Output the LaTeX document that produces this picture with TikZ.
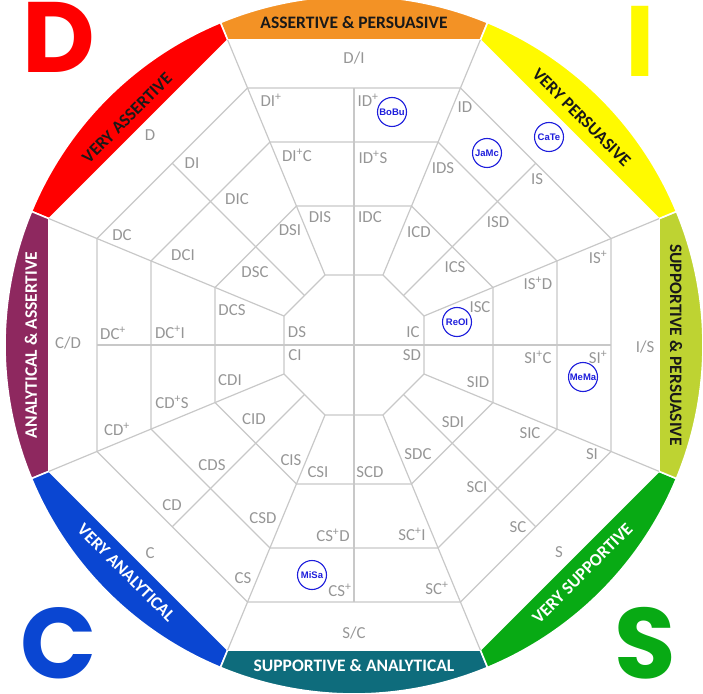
\documentclass[tikz,border=0pt]{standalone}
\usepackage{fontspec}
\setmainfont{Carlito}
\newfontfamily\bigfont{Poppins}
\newfontfamily\circfont{Liberation Sans}
\definecolor{cOrange}{RGB}{243,146,37}
\definecolor{cRed}{RGB}{255,0,0}
\definecolor{cYellow}{RGB}{255,250,0}
\definecolor{cLime}{RGB}{190,211,50}
\definecolor{cGreen}{RGB}{8,170,20}
\definecolor{cTeal}{RGB}{14,108,124}
\definecolor{cBlue}{RGB}{10,70,210}
\definecolor{cPurple}{RGB}{142,40,95}
\definecolor{gridgray}{RGB}{200,200,200}
\definecolor{labelgray}{RGB}{150,150,150}
\definecolor{circblue}{RGB}{30,30,220}
\definecolor{darktext}{RGB}{25,25,25}
\tikzset{
  gridline/.style={draw=gridgray, line width=1.2pt},
  cell/.style={text=labelgray, inner sep=0pt, font=\fontsize{16.8}{18}\selectfont},
  bandlbl/.style={inner sep=0pt, font=\bfseries\fontsize{17.5}{19}\selectfont},
  biglet/.style={inner sep=0pt, anchor=base, font=\bigfont\bfseries\fontsize{100}{100}\selectfont},
  person/.style={circle, draw=circblue, fill=white, line width=1.1pt, minimum size=29pt, inner sep=0pt, text=circblue, font=\circfont\bfseries\fontsize{9.5}{10}\selectfont},
}
\newcommand\lab[4]{\node[cell] (#1) at (#2,#3) {#4};}
\newcommand\ps{\textsuperscript{+}}
\begin{document}
\begin{tikzpicture}[x=1pt,y=1pt]
\useasboundingbox (-354,-348) rectangle (349,345);
% coloured bands
\foreach \ang/\col in {90/cOrange,135/cRed,180/cPurple,225/cBlue,270/cTeal,315/cGreen,0/cLime,45/cYellow}{
  \filldraw[fill=\col, draw=white, line width=1.6pt] ({\ang-22.5}:330.13) -- ({\ang-22.5}:349)
    arc[start angle={\ang-22.5}, end angle={\ang+22.5}, radius=349] -- ({\ang+22.5}:330.13) -- cycle;
}
% octagon rings
\foreach \r in {278.17,219.73,150.45,75.77}{
  \draw[gridline] (22.5:\r) \foreach \a in {67.5,112.5,...,337.5}{ -- (\a:\r)} -- cycle;
}
% radial lines
\foreach \a in {22.5,67.5,...,337.5} \draw[gridline] (\a:75.77) -- (\a:330.13);
% mid lines
\draw[gridline] (0,257) -- (0,-257);
\draw[gridline] (-257,0) -- (257,0);
\foreach \a in {45,135,225,315} \draw[gridline] (\a:70) -- (\a:257);
% band labels
\node[bandlbl, text=darktext] (b1) at (90:322) {ASSERTIVE \& PERSUASIVE};
\node[bandlbl, text=darktext, rotate=45] (b2) at (135:321) {VERY ASSERTIVE};
\node[bandlbl, text=white, rotate=90] (b3) at (180:323) {ANALYTICAL \& ASSERTIVE};
\node[bandlbl, text=white, rotate=-45] (b4) at (225:322) {VERY ANALYTICAL};
\node[bandlbl, text=white] (b5) at (270:321) {SUPPORTIVE \& ANALYTICAL};
\node[bandlbl, text=white, rotate=45] (b6) at (315:323) {VERY SUPPORTIVE};
\node[bandlbl, text=darktext, rotate=-90] (b7) at (0:322) {SUPPORTIVE \& PERSUASIVE};
\node[bandlbl, text=darktext, rotate=-45] (b8) at (45:322) {VERY PERSUASIVE};
% big letters
\node[biglet, text=cRed] (bD) at (-295,272) {D};
\node[biglet, text=cYellow] (bI) at (286,268) {I};
\node[biglet, text=cBlue] (bC) at (-295,-333) {C};
\node[biglet, text=cGreen] (bS) at (291,-333) {S};
% top sector
\lab{t0}{0}{287}{D/I}
\lab{t1}{-83}{245}{DI\ps}
\lab{t2}{14}{245}{ID\ps}
\lab{t3}{-57}{190}{DI\ps C}
\lab{t4}{19}{188}{ID\ps S}
\lab{t5}{-34}{128}{DIS}
\lab{t6}{16}{128}{IDC}
% D sector
\lab{d0}{-204}{210}{D}
\lab{d1}{-162}{182}{DI}
\lab{d2}{-232}{110}{DC}
\lab{d3}{-117}{146}{DIC}
\lab{d4}{-171}{90}{DCI}
\lab{d5}{-64}{115}{DSI}
\lab{d6}{-99}{73}{DSC}
% left sector
\lab{l0}{-286}{2}{C/D}
\lab{l1}{-241}{12}{DC\ps}
\lab{l2}{-237}{-84}{CD\ps}
\lab{l3}{-184}{13}{DC\ps I}
\lab{l4}{-182}{-57}{CD\ps S}
\lab{l5}{-122}{35}{DCS}
\lab{l6}{-124}{-35}{CDI}
% inner
\lab{i1}{-57}{13}{DS}
\lab{i2}{-59}{-10}{CI}
\lab{i3}{59}{13}{IC}
\lab{i4}{58}{-10}{SD}
% C sector
\lab{c0}{-204}{-208}{C}
\lab{c1}{-182}{-160}{CD}
\lab{c2}{-111}{-233}{CS}
\lab{c3}{-142}{-120}{CDS}
\lab{c4}{-91}{-173}{CSD}
\lab{c5}{-100}{-74}{CID}
\lab{c6}{-63}{-115}{CIS}
% bottom sector
\lab{s0}{0}{-288}{S/C}
\lab{s1}{-36}{-127}{CSI}
\lab{s2}{16}{-127}{SCD}
\lab{s3}{-21}{-190}{CS\ps D}
\lab{s4}{58}{-189}{SC\ps I}
\lab{s5}{-14}{-245}{CS\ps}
\lab{s6}{83}{-243}{SC\ps}
% S sector
\lab{g0}{205}{-207}{S}
\lab{g1}{164}{-182}{SC}
\lab{g2}{238}{-109}{SI}
\lab{g3}{123}{-142}{SCI}
\lab{g4}{176}{-88}{SIC}
\lab{g5}{64}{-109}{SDC}
\lab{g6}{99}{-77}{SDI}
% right sector
\lab{r0}{291}{-2}{I/S}
\lab{r1}{244}{88}{IS\ps}
\lab{r2}{244}{-12}{SI\ps}
\lab{r3}{184}{62}{IS\ps D}
\lab{r4}{184}{-12}{SI\ps C}
\lab{r5}{126}{38}{ISC}
\lab{r6}{124}{-37}{SID}
% I sector
\lab{y1}{111}{238}{ID}
\lab{y2}{183}{166}{IS}
\lab{y3}{89}{177}{IDS}
\lab{y4}{144}{123}{ISD}
\lab{y5}{65}{113}{ICD}
\lab{y6}{101}{78}{ICS}
% people
\node[person] (p1) at (38,233) {BoBu};
\node[person] (p2) at (195,208) {CaTe};
\node[person] (p3) at (133,192) {JaMc};
\node[person] (p4) at (103,23) {ReOI};
\node[person] (p5) at (229,-32) {MeMa};
\node[person] (p6) at (-42,-230) {MiSa};
\end{tikzpicture}
\end{document}
